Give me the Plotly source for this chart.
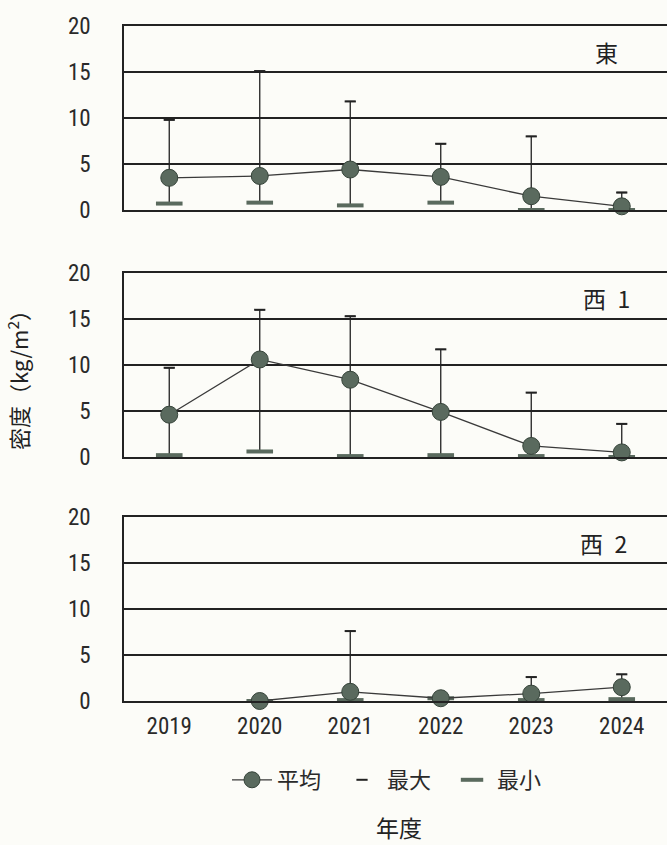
import plotly.graph_objects as go

# Survey years (categories shared by all three sites)
years = ["2019", "2020", "2021", "2022", "2023", "2024"]

# 東 site: mean / maximum / minimum density (kg/m2)
east_mean = [3.5, 3.7, 4.4, 3.6, 1.5, 0.4]
east_max = [9.8, 15.1, 11.8, 7.2, 8.0, 1.9]
east_min = [0.7, 0.8, 0.5, 0.8, 0.0, 0.0]

# 西1 site
west1_mean = [4.6, 10.6, 8.4, 4.9, 1.2, 0.5]
west1_max = [9.7, 16.0, 15.3, 11.7, 7.0, 3.6]
west1_min = [0.2, 0.6, 0.1, 0.2, 0.1, 0.0]

# 西2 site (no survey in 2019)
west2_mean = [None, 0.0, 1.0, 0.3, 0.8, 1.5]
west2_max = [None, 0.0, 7.6, 0.3, 2.6, 2.9]
west2_min = [None, 0.0, 0.1, 0.3, 0.1, 0.2]

panel_names = ["東", "西\u20021", "西\u20022"]
y_ticks = [0, 5, 10, 15, 20]

W, H = 667, 845
PLOT_L = 124
PW = W - PLOT_L
# panel (top, bottom) pixel positions of the 20 and 0 gridlines
panel_px = [(26, 210), (273, 457), (517, 701)]

MARK_FILL = "#5a6a5e"
MARK_EDGE = "#36443a"
INK = "#222222"
TICK_FONT = dict(family="Roboto Condensed, DejaVu Sans Condensed, Liberation Sans, sans-serif",
                 size=23, color="#2a2a2a")
CJK = "Noto Sans CJK JP"

fig = go.Figure()

series = [(east_mean, east_max, east_min),
          (west1_mean, west1_max, west1_min),
          (west2_mean, west2_max, west2_min)]

for i, (mean, mx, mn) in enumerate(series):
    sfx = "" if i == 0 else str(i + 1)
    xa, ya = "x" + sfx, "y" + sfx
    up = [None if m is None else h - m for m, h in zip(mean, mx)]
    down = [None if m is None else m - l for m, l in zip(mean, mn)]
    show = i == 0
    # high-low line with cap at the maximum
    fig.add_trace(go.Scatter(
        x=years, y=mean, xaxis=xa, yaxis=ya, mode="markers",
        marker=dict(size=1, color="rgba(0,0,0,0)"),
        error_y=dict(type="data", symmetric=False, array=up, arrayminus=down,
                     color=INK, thickness=1.3, width=5),
        showlegend=False, hoverinfo="skip", cliponaxis=False))
    # maximum marker
    fig.add_trace(go.Scatter(
        x=years, y=mx, xaxis=xa, yaxis=ya, mode="markers", name="最大\u2002",
        marker=dict(symbol="line-ew", size=8, line=dict(width=2, color=INK)),
        showlegend=show, legendrank=2, cliponaxis=False))
    # minimum marker
    fig.add_trace(go.Scatter(
        x=years, y=mn, xaxis=xa, yaxis=ya, mode="markers", name="最小",
        marker=dict(symbol="line-ew", size=19, line=dict(width=4, color=MARK_FILL)),
        showlegend=show, legendrank=3, cliponaxis=False))
    # mean line with circles
    fig.add_trace(go.Scatter(
        x=years, y=mean, xaxis=xa, yaxis=ya, mode="lines+markers", name="平均\u2002",
        line=dict(color="#3a3a3a", width=1.3),
        marker=dict(size=17, color=MARK_FILL, line=dict(width=1, color=MARK_EDGE)),
        showlegend=show, legendrank=1, cliponaxis=False))

layout = dict(
    width=W, height=H, autosize=False,
    margin=dict(l=PLOT_L, r=0, t=0, b=0, pad=0, autoexpand=False),
    paper_bgcolor="#fcfcf8", plot_bgcolor="#fcfcf8",
    showlegend=True,
    legend=dict(orientation="h", x=(387 - PLOT_L) / PW, xanchor="center",
                y=1 - 780 / H, yanchor="middle", bgcolor="rgba(0,0,0,0)",
                font=dict(family=CJK, size=22, color="#2a2a2a"),
                itemwidth=40, traceorder="normal"),
)

for i, (top, bot) in enumerate(panel_px):
    sfx = "" if i == 0 else str(i + 1)
    layout["xaxis" + sfx] = dict(
        domain=[0, 1], anchor="y" + sfx, type="category",
        categoryorder="array", categoryarray=years,
        range=[-0.5, 5.5], showgrid=False, zeroline=False,
        showline=True, linecolor=INK, linewidth=1.5, mirror=True,
        showticklabels=(i == 2), ticks="", tickfont=TICK_FONT,
        ticklabelstandoff=4, automargin=False, fixedrange=True)
    layout["yaxis" + sfx] = dict(
        domain=[1 - bot / H, 1 - top / H], anchor="x" + sfx,
        range=[0, 20], tickvals=y_ticks, ticks="",
        showgrid=True, gridcolor=INK, gridwidth=1.5, zeroline=False,
        showline=True, linecolor=INK, linewidth=1.5,
        tickfont=TICK_FONT, ticklabelstandoff=27,
        automargin=False, fixedrange=True)

fig.update_layout(**layout)

# site labels inside each panel
label_pos = [(606, 52), (606, 298), (603, 543)]
for name, (px, py) in zip(panel_names, label_pos):
    fig.add_annotation(x=(px - PLOT_L) / PW, y=1 - py / H,
                       xref="paper", yref="paper", text=name, showarrow=False,
                       xanchor="center", yanchor="middle",
                       font=dict(family=CJK, size=23, color="#222"))

# axis titles
fig.add_annotation(x=(399 - PLOT_L) / PW, y=1 - 827 / H, xref="paper", yref="paper",
                   text="年度", showarrow=False, xanchor="center", yanchor="middle",
                   font=dict(family=CJK, size=23, color="#222"))
fig.add_annotation(x=(17 - PLOT_L) / PW, y=1 - 375 / H, xref="paper", yref="paper",
                   text="密度（kg/m<sup>2</sup>）", textangle=-90, showarrow=False,
                   xanchor="center", yanchor="middle",
                   font=dict(family=CJK, size=22, color="#222"))

fig.write_html("out.html")
